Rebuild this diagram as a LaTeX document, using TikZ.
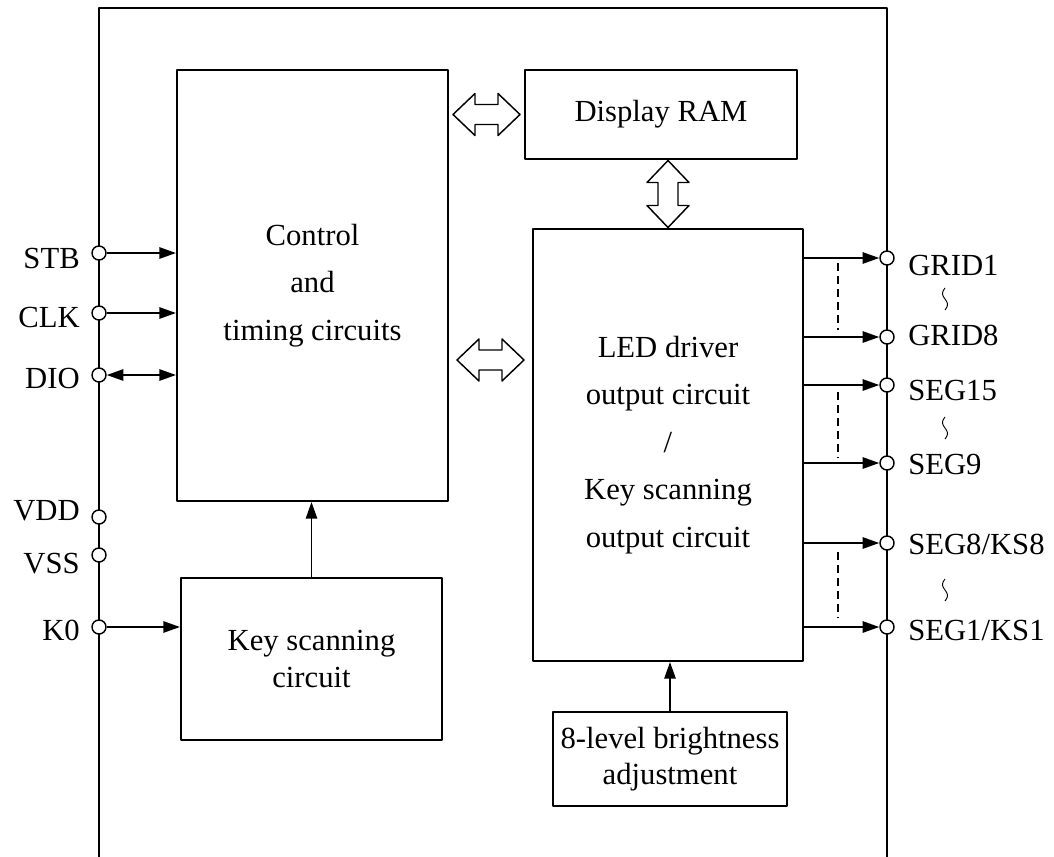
\documentclass[tikz,border=0pt]{standalone}
\usepackage{fontspec}
\setmainfont{Liberation Serif}
\usetikzlibrary{arrows.meta,calc}

\tikzset{
	blk/.style={draw, line width=1.5pt, inner sep=0pt, align=center},
	pinc/.style={circle, draw, fill=white, line width=1.1pt, inner sep=0pt, minimum size=10.5pt},
	lbl/.style={inner sep=0pt},
	wire/.style={line width=1.35pt},
	bus/.pic={\draw[line width=1.1pt] (-33.5,0) -- (-11.5,21) -- (-11.5,10) -- (11.5,10)
		-- (11.5,21) -- (33.5,0) -- (11.5,-21) -- (11.5,-10) -- (-11.5,-10) -- (-11.5,-21) -- cycle;},
	wavy/.pic={\draw[line width=0.7pt] plot[smooth, domain=0:1, samples=15]
		({-2.5*sin(360*\x)}, {-11+22*\x});}
}

\begin{document}
\begin{tikzpicture}[x=0.75pt, y=-0.75pt, line join=round,
	>={Triangle[length=12.5pt,width=8.5pt]},
	font=\fontsize{23}{27.5}\selectfont]
	\useasboundingbox (0,0) rectangle (1054,857);
	% chip outline
	\draw[line width=1.5pt] (99,857) -- (99,8) -- (887,8) -- (887,857);
	% blocks
	\node[blk, minimum width=203.25pt, minimum height=323.25pt,
		font=\fontsize{23}{35.6}\selectfont] (ctrl) at (312.5,285.5)
		{Control\\and\\timing circuits};
	\node[blk, minimum width=204pt, minimum height=66.75pt] (ram) at (661,114.5) {Display RAM};
	\node[blk, minimum width=202.5pt, minimum height=324pt,
		font=\fontsize{23}{35.6}\selectfont] (led) at (668,445)
		{LED driver\\output circuit\\/\\Key scanning\\output circuit};
	\node[blk, minimum width=195.75pt, minimum height=121.5pt] (key) at (311.5,659)
		{Key scanning\\circuit};
	\node[blk, line width=1.2pt, minimum width=175.5pt, minimum height=70.5pt] (bright) at (670,759)
		{8-level brightness\\adjustment};
	% buses
	\pic at ($(ctrl.east |- ram)!0.5!(ram.west)$) {bus};
	\pic at ($(ctrl.east |- 0,360)!0.5!(led.west |- 0,360)$) {bus};
	\pic[rotate=90] at ($(ram.south -| led)!0.5!(led.north)$) {bus};
	% pins
	\foreach \n/\y/\b/\t in {stb/253/268/STB, clk/313/327/CLK, dio/375/388/DIO,
		vdd/517/520/VDD, vss/555/573/VSS, kz/627/640/K0}{
		\node[pinc] (\n) at (99,\y) {};
		\node[lbl, anchor=base east] (l\n) at (80,\b) {\t};
	}
	\foreach \n/\y/\b/\t in {g1/258/275/GRID1, g8/337/345/GRID8, s15/385/400/SEG15,
		s9/463/474/SEG9, s8/543/554/{SEG8/KS8}, s1/627/640/{SEG1/KS1}}{
		\node[pinc] (\n) at (887,\y) {};
		\node[lbl, anchor=base west] (l\n) at (908,\b) {\t};
	}
	% connections
	\foreach \n in {stb,clk}
		\draw[wire,->] (\n) -- (\n -| ctrl.west);
	\draw[wire,<->] (dio) -- (dio -| ctrl.west);
	\draw[wire,->] (kz) -- (kz -| key.west);
	\draw[wire,->] (key) -- (key |- ctrl.south);
	\draw[wire,->] (bright) -- (bright |- led.south);
	\foreach \n in {g1,g8,s15,s9,s8,s1}
		\draw[wire,->] (led.east |- \n) -- (\n);
	\foreach \a/\b in {263/330, 392/458, 552/618}
		\draw[line width=0.9pt, dash pattern=on 6pt off 3.75pt] (838,\a) -- (838,\b);
	\foreach \y in {299,428,590}
		\pic at (945,\y) {wavy};
\end{tikzpicture}
\end{document}
